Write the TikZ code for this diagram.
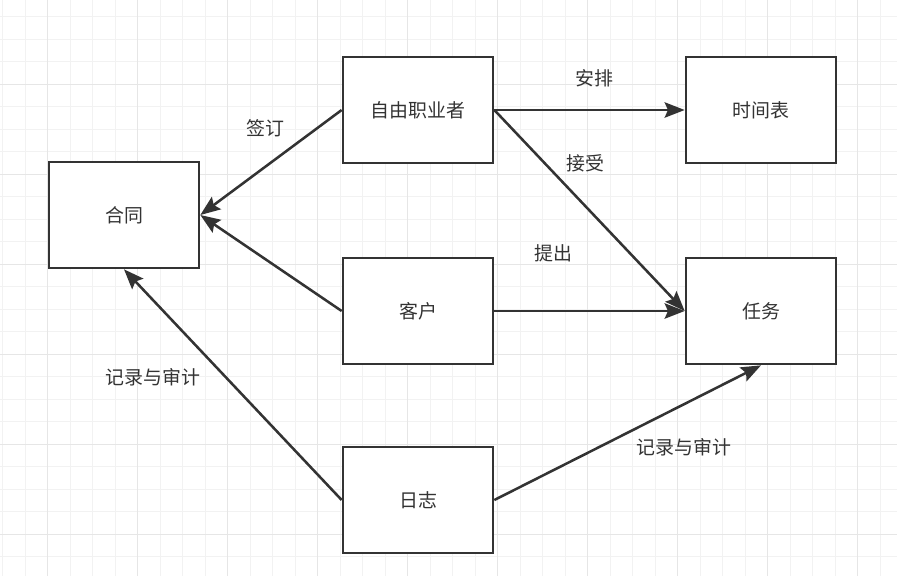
\documentclass[tikz,border=0pt]{standalone}
\usepackage{fontspec}
\newfontfamily\cjk{Noto Sans CJK SC}
\usetikzlibrary{arrows.meta,positioning}
\definecolor{inkgray}{HTML}{333333}
\definecolor{gridminor}{HTML}{F2F2F2}
\definecolor{gridmajor}{HTML}{E6E6E6}
\tikzset{
  entity/.style={draw=inkgray, line width=2pt, fill=white, minimum width=112.5pt, minimum height=79.5pt,
    inner sep=0pt, font=\cjk\fontsize{14.2}{16}\selectfont, text=inkgray},
  link/.style={draw=inkgray, line width=1.9pt, -{Stealth[length=15pt,width=11.5pt,inset=2.5pt]}},
  linklabel/.style={font=\cjk\fontsize{14.2}{16}\selectfont, text=inkgray, inner sep=1pt}
}
\begin{document}
\begin{tikzpicture}[x=0.75pt,y=-0.75pt]
\useasboundingbox (0,0) rectangle (897,576);
% Background grid
\fill[white] (0,0) rectangle (897,576);
\foreach \i in {0,...,40} {
  \draw[gridminor, line width=0.75pt] ({2.7+22.5*\i},0) -- ({2.7+22.5*\i},576);
}
\foreach \i in {0,...,26} {
  \draw[gridminor, line width=0.75pt] (0,{16.7+22.5*\i}) -- (897,{16.7+22.5*\i});
}
\foreach \i in {0,...,9} {
  \draw[gridmajor, line width=0.75pt] ({47.7+90*\i},0) -- ({47.7+90*\i},576);
}
\foreach \i in {-1,...,6} {
  \draw[gridmajor, line width=0.75pt] (0,{84.3+90*\i}) -- (897,{84.3+90*\i});
}
% Entities
\node[entity] (contract) at (124,215) {合同};
\node[entity] (freelancer) at (418,110) {自由职业者};
\node[entity] (schedule) at (761,110) {时间表};
\node[entity] (client) at (418,311) {客户};
\node[entity] (task) at (761,311) {任务};
\node[entity] (log) at (418,500) {日志};
% Connectors
\draw[link] (freelancer.west) -- (contract.east);
\draw[link] (client.west) -- (contract.east);
\draw[link] (log.west) -- (contract.south);
\draw[link] (freelancer.east) -- (schedule.west);
\draw[link] (freelancer.east) -- (task.west);
\draw[link] (client.east) -- (task.west);
\draw[link] (log.east) -- (task.south);
% Labels
\node[linklabel] (signlbl) at (265,128) {签订};
\node[linklabel] (planlbl) at (594,78) {安排};
\node[linklabel] (acceptlbl) at (585,163) {接受};
\node[linklabel] (raiselbl) at (553,253) {提出};
\node[linklabel] (auditlbla) at (153,377) {记录与审计};
\node[linklabel] (auditlblb) at (684,447) {记录与审计};
\end{tikzpicture}
\end{document}
